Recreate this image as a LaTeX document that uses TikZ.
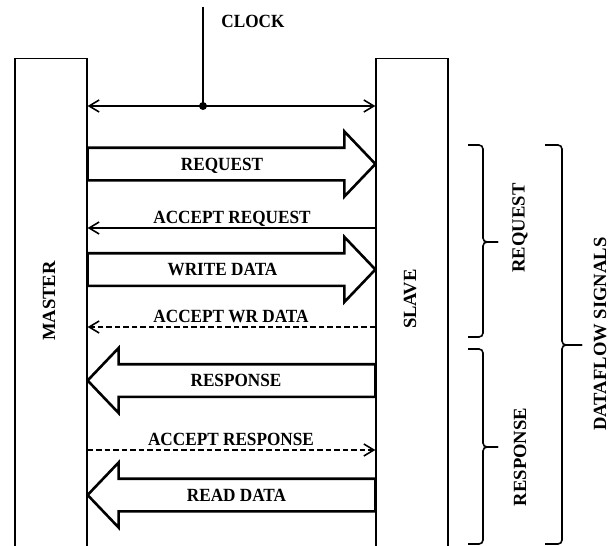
\documentclass[tikz,border=0pt]{standalone}
\usepackage{fontspec}
\setmainfont{Liberation Serif}
\usetikzlibrary{arrows.meta,calc}

\begin{document}
\begin{tikzpicture}[x=1pt,y=-1pt,>={Straight Barb[length=10pt,width=12pt]},%
% common options for the two units:
unit/.style = {draw, line width=1.2pt, minimum width=72pt, minimum height=520pt,
            anchor=north, inner sep=0},
% common options for the labels:
lbl/.style = {font=\fontsize{18.6}{22}\selectfont\bfseries, inner sep=0,
            text depth=0pt, xscale=.925},
acc/.style = {lbl, anchor=south, inner ysep=4pt},
vlbl/.style = {font=\fontsize{18.6}{22}\selectfont\bfseries, inner sep=0, rotate=90},
% thin signals and wide data arrows:
sig/.style = {line width=1.6pt, ->},
fat/.style = {line width=2.6pt, line join=miter,
            to path={let \p1=(\tikztostart), \p2=(\tikztotarget),
              \n1={ifthenelse(\x2>\x1,1,-1)} in
              (\x1,\y1+16.3pt) -- (\x2-31pt*\n1,\y1+16.3pt) -- (\x2-31pt*\n1,\y1+32.5pt)
              -- (\x2,\y2) -- (\x2-31pt*\n1,\y1-32.5pt) -- (\x2-31pt*\n1,\y1-16.3pt)
              -- (\x1,\y1-16.3pt) -- cycle}},
dot/.style = {circle, fill, inner sep=0, minimum size=8pt},
brk/.style = {line width=1.6pt, rounded corners=4pt}]
\useasboundingbox (0,0) rectangle (611,546);
\clip (0,0) rectangle (611,546);
\node[unit] (master) at (51,58) {};
\node[unit] (slave) at (412,58) {};
\node[vlbl] (mastername) at (49,301) {MASTER};
\node[vlbl] (slavename) at (410,299) {SLAVE};
% clock
\coordinate (clk) at (203,7);
\node[dot] (tick) at (203,106) {};
\node[lbl] (clock) at (253,21.5) {CLOCK};
\draw[line width=1.8pt] (clk) to (tick.center);
\draw[sig,<->] (master.east |- tick) to (slave.west |- tick);
% request channel
\node[lbl] (request) at (222,164) {REQUEST};
\node[acc] (accreq) at (232,228) {ACCEPT REQUEST};
\node[lbl] (wrdata) at (222.5,269.5) {WRITE DATA};
\node[acc] (accwr) at (231,327) {ACCEPT WR DATA};
\draw[fat] (master.east |- request) to (slave.west |- request);
\draw[sig] (slave.west |- accreq.south) to (master.east |- accreq.south);
\draw[fat] (master.east |- wrdata) to (slave.west |- wrdata);
\draw[sig,dash pattern=on 5.5pt off 3pt] (slave.west |- accwr.south) to (master.east |- accwr.south);
% response channel
\node[lbl] (response) at (236,380.5) {RESPONSE};
\node[acc] (accresp) at (231,450) {ACCEPT RESPONSE};
\node[lbl] (rddata) at (236.5,495) {READ DATA};
\draw[fat] (slave.west |- response) to (master.east |- response);
\draw[sig,dash pattern=on 5.5pt off 3pt] (master.east |- accresp.south) to (slave.west |- accresp.south);
\draw[fat] (slave.west |- rddata) to (master.east |- rddata);
% groups
\draw[brk] (468,145) -- (483,145) -- (483,242) -- (498,242);
\draw[brk] (498,242) -- (483,242) -- (483,337) -- (468,337);
\draw[brk] (468,349) -- (483,349) -- (483,447) -- (498,447);
\draw[brk] (498,447) -- (483,447) -- (483,544) -- (468,544);
\draw[brk] (545,145) -- (562,145) -- (562,345) -- (582,345);
\draw[brk] (582,345) -- (562,345) -- (562,544) -- (545,544);
\node[vlbl] (reqgrp) at (520,228) {REQUEST};
\node[vlbl] (respgrp) at (520,457) {RESPONSE};
\node[vlbl] (dataflow) at (600,334) {DATAFLOW SIGNALS};
\end{tikzpicture}
\end{document}
